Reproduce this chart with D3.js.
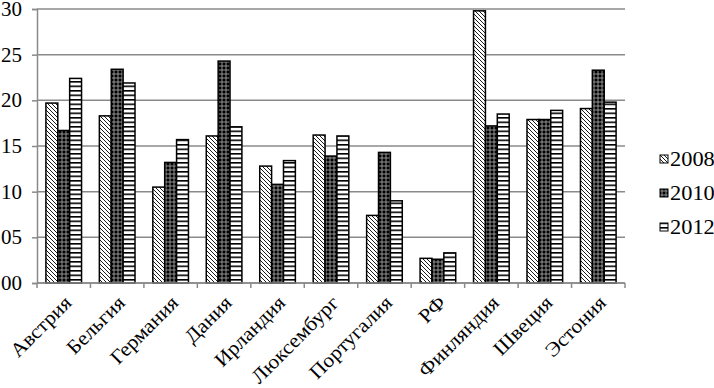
<!DOCTYPE html>
<html>
<head>
<meta charset="utf-8">
<script src="https://d3js.org/d3.v7.min.js"></script>
<style>
	body { margin: 0; background: #fff; }
	text { font-family: "Liberation Serif", "Times New Roman", serif; fill: #000; }
</style>
</head>
<body>
<script>
// values
var countries = ["Австрия", "Бельгия", "Германия", "Дания", "Ирландия", "Люксембург",
	"Португалия", "РФ", "Финляндия", "Швеция", "Эстония"];
var years = ["2008", "2010", "2012"];
var v2008 = [19.7, 18.3, 10.5, 16.1, 12.8, 16.2, 7.4, 2.7, 29.8, 17.9, 19.1];
var v2010 = [16.7, 23.4, 13.2, 24.3, 10.8, 13.9, 14.3, 2.6, 17.2, 17.9, 23.3];
var v2012 = [22.4, 21.9, 15.7, 17.1, 13.4, 16.1, 9.0, 3.3, 18.5, 18.9, 19.8];
var yTicks = [0, 5, 10, 15, 20, 25, 30];
var yTickLabels = ["00", "05", "10", "15", "20", "25", "30"];

var series = [v2008, v2010, v2012];

var width = 714,
	height = 388,
	plotLeft = 37, plotRight = 625, plotTop = 9, plotBottom = 283;

var svg = d3.select("body")
	.append("svg")
	.attr("width", width)
	.attr("height", height);

// fill patterns
var defs = svg.append("defs");
var p1 = defs.append("pattern").attr("id", "pat2008")
	.attr("patternUnits", "userSpaceOnUse").attr("width", 4).attr("height", 4);
p1.append("rect").attr("width", 4).attr("height", 4).attr("fill", "#fff");
p1.append("path").attr("d", "M0,0L4,4M-1,3L1,5M3,-1L5,1")
	.attr("stroke", "#000").attr("stroke-width", 0.9);

var p2 = defs.append("pattern").attr("id", "pat2010")
	.attr("patternUnits", "userSpaceOnUse").attr("width", 4).attr("height", 4);
p2.append("rect").attr("width", 4).attr("height", 4).attr("fill", "#000");
p2.append("circle").attr("cx", 2).attr("cy", 2).attr("r", 1.2)
	.attr("fill", "none").attr("stroke", "#fff").attr("stroke-width", 0.6);

var p3 = defs.append("pattern").attr("id", "pat2012")
	.attr("patternUnits", "userSpaceOnUse").attr("width", 8).attr("height", 4.5);
p3.append("rect").attr("width", 8).attr("height", 4.5).attr("fill", "#fff");
p3.append("rect").attr("width", 8).attr("height", 1.6).attr("fill", "#000");

var fills = ["url(#pat2008)", "url(#pat2010)", "url(#pat2012)"];

var x = d3.scaleBand()
	.domain(countries)
	.range([plotLeft, plotRight]);
var xs = d3.scaleBand()
	.domain(years)
	.range([0, x.bandwidth()])
	.paddingOuter(0.75);
var y = d3.scaleLinear()
	.domain([0, 30])
	.range([plotBottom, plotTop]);

// gridlines
svg.append("g")
	.selectAll("line")
	.data(yTicks)
	.enter()
	.append("line")
		.attr("x1", plotLeft)
		.attr("x2", plotRight)
		.attr("y1", function(d) { return y(d); })
		.attr("y2", function(d) { return y(d); })
		.attr("stroke", "#8a8a8a")
		.attr("stroke-width", 1.5);

// bars
series.forEach(function(vals, s) {
	svg.append("g")
		.selectAll("rect")
		.data(vals)
		.enter()
		.append("rect")
			.attr("x", function(d, i) { return x(countries[i]) + xs(years[s]); })
			.attr("y", function(d) { return y(d); })
			.attr("width", xs.bandwidth())
			.attr("height", function(d) { return y(0) - y(d); })
			.attr("fill", fills[s])
			.attr("stroke", "#000")
			.attr("stroke-width", 1.5);
});

// y axis
var yAxis = svg.append("g")
	.attr("transform", "translate(" + plotLeft + ",0)")
	.call(d3.axisLeft(y).tickValues(yTicks).tickSize(5).tickFormat(""));
yAxis.selectAll("line, path").attr("stroke", "#8a8a8a").attr("stroke-width", 1.5);

svg.append("g")
	.selectAll("text")
	.data(yTicks)
	.enter()
	.append("text")
		.attr("transform", function(d) { return "translate(22," + (y(d) + 7) + ") scale(1.05,1)"; })
		.attr("text-anchor", "end")
		.attr("font-size", 20)
		.text(function(d, i) { return yTickLabels[i]; });

// x axis
svg.append("line")
	.attr("x1", plotLeft).attr("x2", plotRight)
	.attr("y1", plotBottom).attr("y2", plotBottom)
	.attr("stroke", "#8a8a8a").attr("stroke-width", 1.5);
svg.append("g")
	.selectAll("line")
	.data(countries.concat([null]))
	.enter()
	.append("line")
		.attr("x1", function(d) { return d === null ? plotRight : x(d); })
		.attr("x2", function(d) { return d === null ? plotRight : x(d); })
		.attr("y1", plotBottom)
		.attr("y2", plotBottom + 5)
		.attr("stroke", "#8a8a8a")
		.attr("stroke-width", 1.5);

svg.append("g")
	.selectAll("text")
	.data(countries)
	.enter()
	.append("text")
		.attr("transform", function(d) {
			return "translate(" + (x(d) + x.bandwidth() / 2 + 9) + ",304) rotate(-45) scale(1.08,1)";
		})
		.attr("text-anchor", "end")
		.attr("font-size", 20)
		.text(function(d) { return d; });

// legend
var legend = svg.append("g")
	.selectAll("g")
	.data(years)
	.enter()
	.append("g")
		.attr("transform", function(d, i) { return "translate(660," + (159 + i * 34) + ")"; });
legend.append("rect")
	.attr("x", 0).attr("y", -4)
	.attr("width", 8).attr("height", 8)
	.attr("fill", function(d, i) { return fills[i]; })
	.attr("stroke", "#000")
	.attr("stroke-width", 1);
legend.append("text")
	.attr("transform", "translate(10,7) scale(1.12,1)")
	.attr("font-size", 20)
	.text(function(d) { return d; });
</script>
</body>
</html>
